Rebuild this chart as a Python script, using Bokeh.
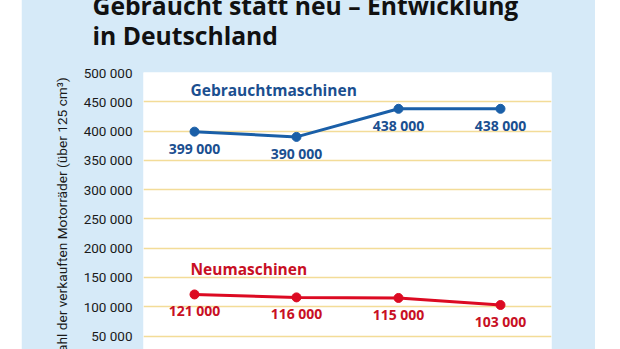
from bokeh.plotting import figure
from bokeh.models import ColumnDataSource, LabelSet, FixedTicker, FactorRange, Range1d
from bokeh.core.properties import value
from bokeh.embed import file_html
from bokeh.resources import INLINE

# ---- data ----
categories = ["Jahr 1", "Jahr 2", "Jahr 3", "Jahr 4"]
gebraucht = [399000, 390000, 438000, 438000]
neu = [121000, 116000, 115000, 103000]
series_names = ["Gebrauchtmaschinen", "Neumaschinen"]
y_ticks = [50000, 100000, 150000, 200000, 250000, 300000, 350000, 400000, 450000, 500000]
y_tick_labels = ["50 000", "100 000", "150 000", "200 000", "250 000",
                 "300 000", "350 000", "400 000", "450 000", "500 000"]
title_lines = ["Gebraucht statt neu – Entwicklung", "in Deutschland"]
y_label = "Anzahl der verkauften Motorräder (über 125 cm³)"

def fmt(v):
    return f"{v:,}".replace(",", " ")

BLUE = "#1a5fa8"
BLUE_TXT = "#1b4f90"
RED = "#dc0a22"
RED_TXT = "#c80f24"
PANEL = "#d6eaf8"
GRID = "#f3dc98"
FONT = "Roboto"
BOLD_FONT = "Open Sans"

p = figure(width=574, height=387, margin=(-38, 0, 0, 21),
           x_range=FactorRange(*categories), y_range=Range1d(27000, 500000),
           output_backend="svg", toolbar_location=None,
           min_border_left=122, min_border_right=44, min_border_top=110, min_border_bottom=0,
           title="\n".join(title_lines))

p.border_fill_color = PANEL
p.background_fill_color = "white"
p.outline_line_color = None

p.title.text_font = "Open Sans"
p.title.text_font_style = "bold"
p.title.text_font_size = "24.7px"
p.title.text_color = "#111111"
p.title.align = "left"
p.title.offset = -51
p.title.standoff = 41
p.title.text_line_height = 0.9

p.xaxis.visible = False
p.xgrid.grid_line_color = None

yax = p.yaxis[0]
yax.ticker = FixedTicker(ticks=y_ticks)
yax.major_label_overrides = {t: l for t, l in zip(y_ticks, y_tick_labels)}
yax.axis_line_color = None
yax.major_tick_line_color = None
yax.minor_tick_line_color = None
yax.major_label_standoff = 5
yax.major_label_text_font = FONT
yax.major_label_text_font_size = "13.5px"
yax.major_label_text_color = "#1a1a1a"
yax.axis_label = y_label + "\u00a0" * 9
yax.axis_label_text_font = FONT
yax.axis_label_text_font_style = "normal"
yax.axis_label_text_font_size = "13.7px"
yax.axis_label_text_color = "#1a1a1a"
yax.axis_label_standoff = 11

p.ygrid.ticker = FixedTicker(ticks=y_ticks)
p.ygrid.grid_line_color = GRID
p.ygrid.grid_line_width = 1.5

for vals, lc, tc, name, name_dy in [(gebraucht, BLUE, BLUE_TXT, series_names[0], 36),
                                     (neu, RED, RED_TXT, series_names[1], 19)]:
    src = ColumnDataSource(dict(x=categories, y=vals, t=[fmt(v) for v in vals]))
    p.line("x", "y", source=src, line_color=lc, line_width=3)
    p.scatter("x", "y", source=src, size=9, fill_color=lc, line_color=lc)
    p.add_layout(LabelSet(x="x", y="y", text="t", source=src, text_align="center",
                          text_baseline="top", y_offset=-7, text_color=tc,
                          text_font=value(BOLD_FONT), text_font_style="bold",
                          text_font_size=value("14px")))
    nsrc = ColumnDataSource(dict(x=[categories[0]], y=[vals[0]], t=[name]))
    p.add_layout(LabelSet(x="x", y="y", text="t", source=nsrc, text_align="left",
                          text_baseline="alphabetic", x_offset=-4, y_offset=name_dy,
                          text_color=tc, text_font=value(BOLD_FONT), text_font_style="bold",
                          text_font_size=value("15.5px")))

open("out.html", "w").write(file_html(p, INLINE))
